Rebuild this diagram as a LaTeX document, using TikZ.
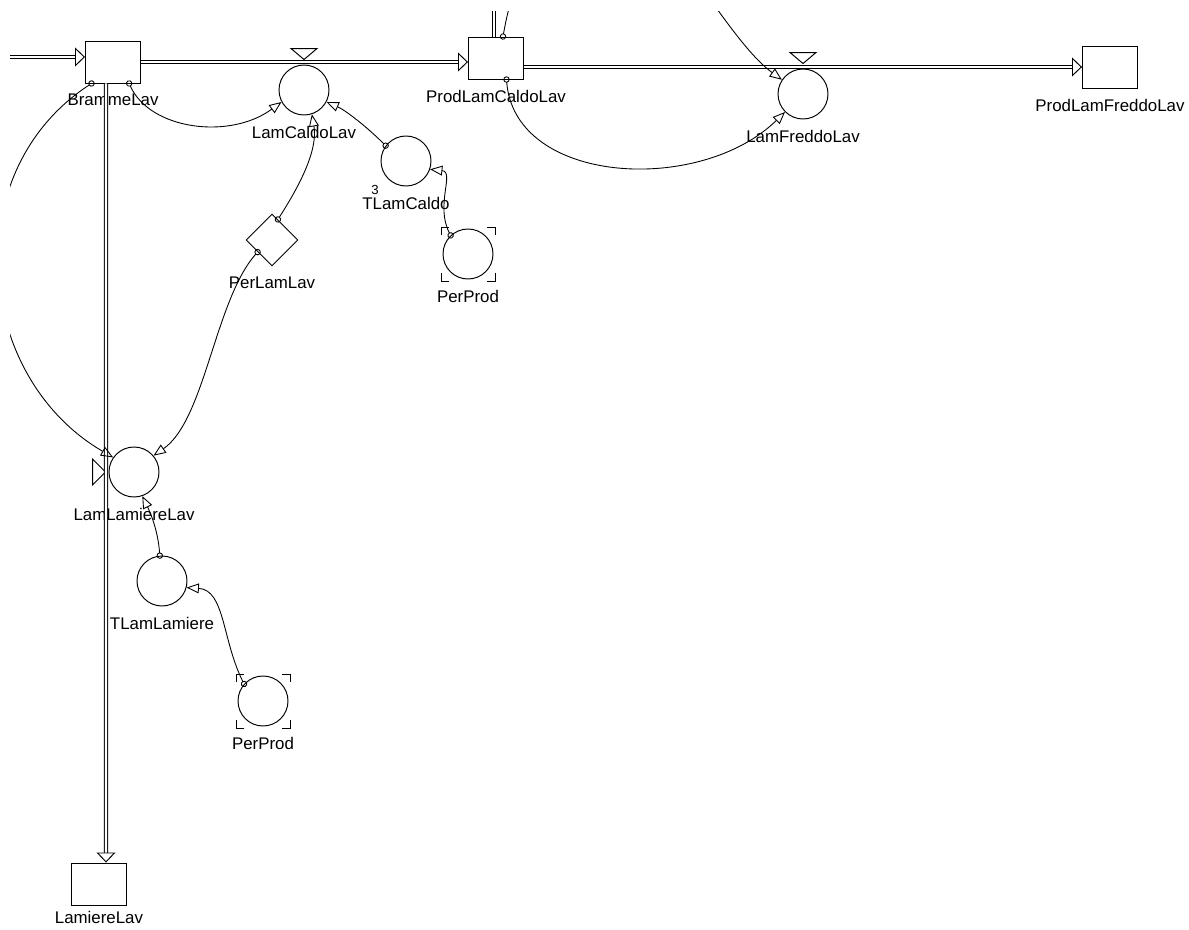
\documentclass[tikz,border=0pt]{standalone}
\usepackage{fontspec}
\setmainfont{Liberation Sans}
\usetikzlibrary{shapes.geometric, arrows.meta, positioning}
\tikzstyle{stock} = [rectangle, minimum width=1.1cm, minimum height=0.84cm, inner sep=0pt, draw=black, line width=0.55pt]
\tikzstyle{aux} = [circle, minimum size=1cm, inner sep=0pt, draw=black, line width=0.55pt]
\tikzstyle{const} = [diamond, minimum width=1.04cm, minimum height=1.04cm, inner sep=0pt, draw=black, line width=0.55pt]
\tikzstyle{flow} = [double, double distance=1.3pt, line width=0.55pt, -{Triangle[open, length=5.7pt, width=10.8pt, line width=0.55pt]}]
\tikzstyle{link} = [line width=0.5pt, shorten <=-1.8pt, {Circle[open, length=3.6pt]}-{Triangle[open, length=7pt, width=5.6pt]}]
\tikzstyle{valve} = [line width=0.55pt]

\begin{document}
\begin{tikzpicture}[x=0.02cm, y=-0.02cm, label distance=0.2cm,
    every label/.style={font=\fontsize{9.6}{11}\selectfont, inner sep=0pt}]
        \useasboundingbox (0,0) rectangle (1189,929);
        \clip (10,12) rectangle (1189,929);

        \node (bramme) [stock, label=below:BrammeLav] at (113,62) {};
        \node (caldo) [aux, label=below:LamCaldoLav] at (304,90) {};
        \node (prodcaldo) [stock, label=below:ProdLamCaldoLav] at (496,58) {};
        \node (freddo) [aux, label=below:LamFreddoLav] at (803,94) {};
        \node (prodfreddo) [stock, label=below:ProdLamFreddoLav] at (1110,67) {};
        \node (tcaldo) [aux, label=below:TLamCaldo] at (406,161) {};
        \node (tcaldonum) [font=\fontsize{7.5}{8}\selectfont, inner sep=0pt] at (375,190) {3};
        \node (perlam) [const, label=below:PerLamLav] at (272,240) {};
        \node (perprodA) [aux, label=below:PerProd] at (468,254) {};
        \node (lamlam) [aux, label=below:LamLamiereLav] at (134,472) {};
        \node (tlam) [aux, label=below:TLamLamiere] at (162,581) {};
        \node (perprodB) [aux, label=below:PerProd] at (263,701) {};
        \node (lamiere) [stock, label={[label distance=0.11cm]below:LamiereLav}] at (99,884) {};

        % valvole
        \draw [valve] (caldo.north) ++(0,-5) -- ++(-13,-11) -- ++(26,0) -- cycle;
        \draw [valve] (freddo.north) ++(0,-5) -- ++(-13,-11) -- ++(26,0) -- cycle;
        \draw [valve] (lamlam.west) ++(-3,0) -- ++(-13,-13) -- ++(0,26) -- cycle;
        \foreach \v in {perprodA, perprodB} {
            \draw [valve] (\v.center) ++(-27,-19) -- ++(0,-8) -- ++(8,0);
            \draw [valve] (\v.center) ++(19,-27) -- ++(8,0) -- ++(0,8);
            \draw [valve] (\v.center) ++(27,19) -- ++(0,8) -- ++(-8,0);
            \draw [valve] (\v.center) ++(-19,27) -- ++(-8,0) -- ++(0,-8);
        }

        % flussi
        \coordinate (srcA) at (10,57);
        \coordinate (sinkB) at (494,-40);
        \draw [flow] (srcA) -- (srcA -| bramme.west);
        \draw [flow] (bramme.east) -- (bramme.east -| prodcaldo.west);
        \draw [flow] (prodcaldo.east |- prodfreddo.west) -- (prodfreddo.west);
        \draw [flow] ([xshift=-0.14cm]bramme.south) -- ([xshift=0.14cm]lamiere.north);
        \draw [flow] (prodcaldo.north -| sinkB) -- (sinkB);

        % collegamenti
        \coordinate (outC) at (520,-30);
        \coordinate (inD) at (700,-15);
        \draw [link] (bramme.-53) .. controls (150,130) and (230,140) .. (caldo.208);
        \draw [link] (bramme.-135) .. controls (-44,172) and (-25,377) .. (lamlam.145);
        \draw [link] (tcaldo.143) .. controls (366,126) and (345,110) .. (caldo.-28);
        \draw [link] (perlam.74) .. controls (300,185) and (318,150) .. (caldo.-72);
        \draw [link] (perlam.220) .. controls (215,300) and (205,420) .. (lamlam.40);
        \draw [link] (tlam.95) .. controls (158,530) and (150,512) .. (lamlam.-71);
        \draw [link] (perprodA.133) .. controls (435,205) and (455,172) .. (tcaldo.-19);
        \draw [link] (perprodB.138) .. controls (222,640) and (225,590) .. (tlam.-15);
        \draw [link] (prodcaldo.-64) .. controls (515,185) and (700,195) .. (freddo.225);
        \draw [link] (prodcaldo.72) .. controls (507,15) .. (outC);
        \draw [link] (inD) .. controls (735,35) and (755,60) .. (freddo.146);
\end{tikzpicture}
\end{document}
